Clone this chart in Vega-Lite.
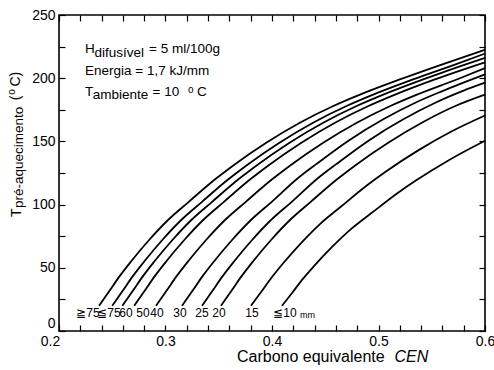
{
  "$schema": "https://vega.github.io/schema/vega-lite/v6.json",
  "width": 426,
  "height": 316,
  "autosize": {"type": "none"},
  "padding": {"left": 59, "top": 15, "right": 9, "bottom": 39},
  "background": "white",
  "config": {
    "font": "Liberation Sans",
    "view": {"stroke": "black", "strokeWidth": 1.6},
    "axis": {"grid": false, "domain": false, "tickColor": "black", "labelColor": "black", "labelFont": "Liberation Sans", "labelFontSize": 14, "tickSize": 6, "offset": -6, "tickWidth": 1.2, "title": null}
  },
  "datasets": {
    "curves": [
      {"c":"a","x":0.2376,"y":20},{"c":"a","x":0.2476,"y":32},{"c":"a","x":0.2566,"y":43},{"c":"a","x":0.2676,"y":55},{"c":"a","x":0.2846,"y":72},{"c":"a","x":0.3026,"y":88},{"c":"a","x":0.3216,"y":102},{"c":"a","x":0.3466,"y":120},{"c":"a","x":0.3636,"y":131},{"c":"a","x":0.3946,"y":149},{"c":"a","x":0.4266,"y":165},{"c":"a","x":0.4576,"y":178},{"c":"a","x":0.4826,"y":187},{"c":"a","x":0.52,"y":199},{"c":"a","x":0.56,"y":211},{"c":"a","x":0.6,"y":222.5},
      {"c":"b","x":0.25,"y":20},{"c":"b","x":0.26,"y":32},{"c":"b","x":0.269,"y":43},{"c":"b","x":0.28,"y":55},{"c":"b","x":0.297,"y":72},{"c":"b","x":0.315,"y":88},{"c":"b","x":0.334,"y":102},{"c":"b","x":0.359,"y":120},{"c":"b","x":0.376,"y":131},{"c":"b","x":0.407,"y":149},{"c":"b","x":0.439,"y":165},{"c":"b","x":0.47,"y":178},{"c":"b","x":0.495,"y":187},{"c":"b","x":0.5324,"y":199},{"c":"b","x":0.5724,"y":211},{"c":"b","x":0.6,"y":219.5},
      {"c":"c","x":0.2595,"y":20},{"c":"c","x":0.2695,"y":32},{"c":"c","x":0.2785,"y":43},{"c":"c","x":0.2895,"y":55},{"c":"c","x":0.3065,"y":72},{"c":"c","x":0.3245,"y":88},{"c":"c","x":0.3435,"y":102},{"c":"c","x":0.3685,"y":120},{"c":"c","x":0.3855,"y":131},{"c":"c","x":0.4165,"y":149},{"c":"c","x":0.4485,"y":165},{"c":"c","x":0.4795,"y":178},{"c":"c","x":0.5045,"y":187},{"c":"c","x":0.5419,"y":199},{"c":"c","x":0.5819,"y":211},{"c":"c","x":0.6,"y":216},
      {"c":"d","x":0.2706,"y":20},{"c":"d","x":0.2806,"y":32},{"c":"d","x":0.2896,"y":43},{"c":"d","x":0.3006,"y":55},{"c":"d","x":0.3176,"y":72},{"c":"d","x":0.3356,"y":88},{"c":"d","x":0.3546,"y":102},{"c":"d","x":0.3796,"y":120},{"c":"d","x":0.3966,"y":131},{"c":"d","x":0.4276,"y":149},{"c":"d","x":0.4596,"y":165},{"c":"d","x":0.4906,"y":178},{"c":"d","x":0.5156,"y":187},{"c":"d","x":0.553,"y":199},{"c":"d","x":0.6,"y":212.5},
      {"c":"e","x":0.2911,"y":20},{"c":"e","x":0.3011,"y":32},{"c":"e","x":0.3101,"y":43},{"c":"e","x":0.3211,"y":55},{"c":"e","x":0.3381,"y":72},{"c":"e","x":0.3561,"y":88},{"c":"e","x":0.3751,"y":102},{"c":"e","x":0.4001,"y":120},{"c":"e","x":0.4171,"y":131},{"c":"e","x":0.4481,"y":149},{"c":"e","x":0.4801,"y":165},{"c":"e","x":0.5111,"y":178},{"c":"e","x":0.5361,"y":187},{"c":"e","x":0.5735,"y":199},{"c":"e","x":0.6,"y":208},
      {"c":"f","x":0.3155,"y":20},{"c":"f","x":0.3255,"y":32},{"c":"f","x":0.3345,"y":43},{"c":"f","x":0.3455,"y":55},{"c":"f","x":0.3625,"y":72},{"c":"f","x":0.3805,"y":88},{"c":"f","x":0.3995,"y":102},{"c":"f","x":0.4245,"y":121},{"c":"f","x":0.4415,"y":132},{"c":"f","x":0.4725,"y":151},{"c":"f","x":0.5045,"y":167.5},{"c":"f","x":0.5355,"y":181},{"c":"f","x":0.5605,"y":190},{"c":"f","x":0.6,"y":203},
      {"c":"g","x":0.3343,"y":20},{"c":"g","x":0.3443,"y":32},{"c":"g","x":0.3533,"y":43},{"c":"g","x":0.3643,"y":55},{"c":"g","x":0.3813,"y":72},{"c":"g","x":0.3993,"y":88},{"c":"g","x":0.4183,"y":102},{"c":"g","x":0.4433,"y":121},{"c":"g","x":0.4603,"y":132},{"c":"g","x":0.4913,"y":151},{"c":"g","x":0.5233,"y":167.5},{"c":"g","x":0.5543,"y":181},{"c":"g","x":0.5793,"y":190},{"c":"g","x":0.6,"y":196.5},
      {"c":"h","x":0.3521,"y":20},{"c":"h","x":0.3621,"y":32},{"c":"h","x":0.3711,"y":43},{"c":"h","x":0.3821,"y":55},{"c":"h","x":0.3991,"y":72},{"c":"h","x":0.4171,"y":88},{"c":"h","x":0.4361,"y":102},{"c":"h","x":0.4611,"y":120},{"c":"h","x":0.4781,"y":131},{"c":"h","x":0.5091,"y":149},{"c":"h","x":0.5411,"y":165},{"c":"h","x":0.5721,"y":178},{"c":"h","x":0.6,"y":187},
      {"c":"i","x":0.3803,"y":20},{"c":"i","x":0.3903,"y":31.4},{"c":"i","x":0.3993,"y":41.9},{"c":"i","x":0.4103,"y":53.4},{"c":"i","x":0.4273,"y":69.6},{"c":"i","x":0.4453,"y":84.8},{"c":"i","x":0.4643,"y":98.1},{"c":"i","x":0.4893,"y":115.3},{"c":"i","x":0.5063,"y":125.8},{"c":"i","x":0.5373,"y":142.9},{"c":"i","x":0.5693,"y":158.2},{"c":"i","x":0.6,"y":170.5},
      {"c":"j","x":0.4094,"y":20},{"c":"j","x":0.4194,"y":30.7},{"c":"j","x":0.4284,"y":40.6},{"c":"j","x":0.4394,"y":51.3},{"c":"j","x":0.4564,"y":66.5},{"c":"j","x":0.4744,"y":80.8},{"c":"j","x":0.4934,"y":93.3},{"c":"j","x":0.5184,"y":109.4},{"c":"j","x":0.5354,"y":119.2},{"c":"j","x":0.5664,"y":135.3},{"c":"j","x":0.6,"y":150.5}
    ],
    "curveLabels": [
      {"x":0.2272,"y":14,"t":"≧75"},{"x":0.2469,"y":14,"t":"≦75"},{"x":0.2629,"y":14,"t":"60"},{"x":0.2789,"y":14,"t":"50"},{"x":0.2920,"y":14,"t":"40"},{"x":0.3136,"y":14,"t":"30"},{"x":0.3343,"y":14,"t":"25"},{"x":0.3502,"y":14,"t":"20"},{"x":0.3812,"y":14,"t":"15"},{"x":0.4122,"y":14,"t":"≦10"}
    ],
    "mmLabel": [{"x":0.4263,"y":12.7,"t":"mm"}],
    "mainText": [
      {"x":0.2244,"y":219.7,"t":"H"},{"x":0.2845,"y":219.7,"t":"= 5 ml/100g"},
      {"x":0.2244,"y":202.3,"t":"Energia = 1,7 kJ/mm"},
      {"x":0.2244,"y":185.9,"t":"T"},{"x":0.2878,"y":185.9,"t":"= 10"},{"x":0.3296,"y":185.9,"t":"C"}
    ],
    "subText": [
      {"x":0.2333,"y":217.0,"t":"difusível"},{"x":0.2316,"y":183.5,"t":"ambiente"}
    ],
    "supText": [{"x":0.3211,"y":188.3,"t":"o"}],
    "yTitleMain": [
      {"x":0.16432,"y":90.2,"t":"T"},{"x":0.1634,"y":182.5,"t":"("},{"x":0.1634,"y":193.4,"t":"C)"}
    ],
    "yTitleSub": [{"x":0.1662,"y":97.3,"t":"pré-aquecimento"}],
    "yTitleSup": [{"x":0.1587,"y":187.0,"t":"o"}],
    "xTitle": [{"x":0.36714,"y":-24.3,"t":"Carbono equivalente"}],
    "xTitleItalic": [{"x":0.5150,"y":-24.3,"t":"CEN"}]
  },
  "resolve": {"axis": {"x": "independent", "y": "independent"}},
  "layer": [
    {
      "data": {"name": "curves"},
      "mark": {"type": "line", "color": "black", "strokeWidth": 1.8, "interpolate": "monotone"},
      "encoding": {
        "x": {"field": "x", "type": "quantitative", "scale": {"domain": [0.2, 0.6], "nice": false, "zero": false},
          "axis": {"orient": "bottom", "values": [0.2,0.22,0.24,0.26,0.28,0.3,0.32,0.34,0.36,0.38,0.4,0.42,0.44,0.46,0.48,0.5,0.52,0.54,0.56,0.58,0.6], "labelExpr": "round(datum.value*100) % 10 == 0 ? format(datum.value, '.1f') : ''", "labelPadding": 3, "labelFlush": false, "labelOverlap": false,
            "labelOffset": {"condition": {"test": "datum.value < 0.21", "value": -9}, "value": 0}}},
        "y": {"field": "y", "type": "quantitative", "scale": {"domain": [0, 250], "nice": false},
          "axis": {"orient": "left", "values": [0,25,50,75,100,125,150,175,200,225,250], "labelExpr": "datum.value % 50 == 0 ? datum.label : ''", "labelPadding": 4, "labelFlush": false, "labelOverlap": false,
            "labelOffset": {"condition": {"test": "datum.value == 0", "value": -8}, "value": 0}}},
        "detail": {"field": "c"}
      }
    },
    {
      "data": {"name": "curves"},
      "mark": {"type": "point", "opacity": 0},
      "encoding": {
        "x": {"field": "x", "type": "quantitative", "axis": {"orient": "top", "values": [0.2,0.22,0.24,0.26,0.28,0.3,0.32,0.34,0.36,0.38,0.4,0.42,0.44,0.46,0.48,0.5,0.52,0.54,0.56,0.58,0.6], "labels": false}},
        "y": {"field": "y", "type": "quantitative", "axis": {"orient": "right", "values": [0,25,50,75,100,125,150,175,200,225,250], "labels": false}}
      }
    },
    {
      "data": {"name": "curveLabels"},
      "mark": {"type": "text", "fontSize": 12, "font": "Liberation Sans Narrow, Liberation Sans", "align": "center", "baseline": "middle", "color": "black"},
      "encoding": {"x": {"field": "x", "type": "quantitative", "axis": null}, "y": {"field": "y", "type": "quantitative", "axis": null}, "text": {"field": "t"}}
    },
    {
      "data": {"name": "mmLabel"},
      "mark": {"type": "text", "fontSize": 9, "align": "left", "baseline": "middle", "color": "black"},
      "encoding": {"x": {"field": "x", "type": "quantitative", "axis": null}, "y": {"field": "y", "type": "quantitative", "axis": null}, "text": {"field": "t"}}
    },
    {
      "data": {"name": "mainText"},
      "mark": {"type": "text", "fontSize": 13.5, "align": "left", "baseline": "alphabetic", "color": "black"},
      "encoding": {"x": {"field": "x", "type": "quantitative", "axis": null}, "y": {"field": "y", "type": "quantitative", "axis": null}, "text": {"field": "t"}}
    },
    {
      "data": {"name": "subText"},
      "mark": {"type": "text", "fontSize": 13.5, "align": "left", "baseline": "alphabetic", "color": "black"},
      "encoding": {"x": {"field": "x", "type": "quantitative", "axis": null}, "y": {"field": "y", "type": "quantitative", "axis": null}, "text": {"field": "t"}}
    },
    {
      "data": {"name": "supText"},
      "mark": {"type": "text", "fontSize": 10, "align": "left", "baseline": "alphabetic", "color": "black"},
      "encoding": {"x": {"field": "x", "type": "quantitative", "axis": null}, "y": {"field": "y", "type": "quantitative", "axis": null}, "text": {"field": "t"}}
    },
    {
      "data": {"name": "yTitleMain"},
      "mark": {"type": "text", "fontSize": 14, "angle": 270, "align": "left", "baseline": "alphabetic", "color": "black"},
      "encoding": {"x": {"field": "x", "type": "quantitative", "axis": null}, "y": {"field": "y", "type": "quantitative", "axis": null}, "text": {"field": "t"}}
    },
    {
      "data": {"name": "yTitleSub"},
      "mark": {"type": "text", "fontSize": 13.5, "angle": 270, "align": "left", "baseline": "alphabetic", "color": "black"},
      "encoding": {"x": {"field": "x", "type": "quantitative", "axis": null}, "y": {"field": "y", "type": "quantitative", "axis": null}, "text": {"field": "t"}}
    },
    {
      "data": {"name": "yTitleSup"},
      "mark": {"type": "text", "fontSize": 10, "angle": 270, "align": "left", "baseline": "alphabetic", "color": "black"},
      "encoding": {"x": {"field": "x", "type": "quantitative", "axis": null}, "y": {"field": "y", "type": "quantitative", "axis": null}, "text": {"field": "t"}}
    },
    {
      "data": {"name": "xTitle"},
      "mark": {"type": "text", "fontSize": 16, "align": "left", "baseline": "alphabetic", "color": "black"},
      "encoding": {"x": {"field": "x", "type": "quantitative", "axis": null}, "y": {"field": "y", "type": "quantitative", "axis": null}, "text": {"field": "t"}}
    },
    {
      "data": {"name": "xTitleItalic"},
      "mark": {"type": "text", "fontSize": 16, "fontStyle": "italic", "align": "left", "baseline": "alphabetic", "color": "black"},
      "encoding": {"x": {"field": "x", "type": "quantitative", "axis": null}, "y": {"field": "y", "type": "quantitative", "axis": null}, "text": {"field": "t"}}
    }
  ]
}
